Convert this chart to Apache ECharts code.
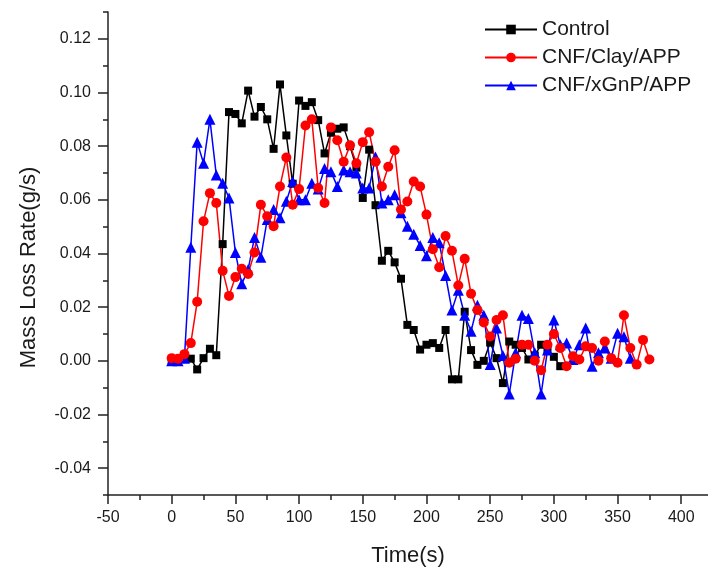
<!DOCTYPE html>
<html>
<head>
<meta charset="utf-8">
<title>Mass Loss Rate</title>
<script src="https://cdn.jsdelivr.net/npm/echarts@6/dist/echarts.min.js"></script>
<style>
    html, body { margin: 0; padding: 0; background: #fff; }
    #grafico { width: 708px; height: 572px; }
</style>
</head>
<body>
<div id="grafico"></div>
<script>
// Datos: tiempo (s) y tasa de pérdida de masa (g/s)
var tiempo = [0, 5, 10, 15, 20, 25, 30, 35, 40, 45, 50, 55, 60, 65, 70, 75, 80, 85, 90, 95,
    100, 105, 110, 115, 120, 125, 130, 135, 140, 145, 150, 155, 160, 165, 170, 175, 180, 185, 190, 195,
    200, 205, 210, 215, 220, 225, 230, 235, 240, 245, 250, 255, 260, 265, 270, 275, 280, 285, 290, 295,
    300, 305, 310, 315, 320, 325, 330, 335, 340, 345, 350, 355, 360, 365, 370, 375];

var control = [0, 0.0005, 0.001, 0.0008, -0.0032, 0.001, 0.0045, 0.0021, 0.0435, 0.0927,
    0.092, 0.0885, 0.1007, 0.091, 0.0946, 0.090, 0.079, 0.103, 0.084, 0.066,
    0.097, 0.095, 0.0964, 0.0897, 0.0773, 0.085, 0.0865, 0.087, 0.080, 0.072,
    0.0607, 0.0787, 0.058, 0.0373, 0.041, 0.0367, 0.0306, 0.0134, 0.0115, 0.0042,
    0.006, 0.0066, 0.0048, 0.0115, -0.0069, -0.0069, 0.0183, 0.004, -0.0015, 0.0,
    0.0068, 0.001, -0.0083, 0.0072, 0.006, 0.0048, 0.0005, 0.002, 0.006, 0.004,
    0.0015, -0.002];

var cnfClay = [0.001, 0.0008, 0.0025, 0.0066, 0.022, 0.052, 0.0625, 0.0588, 0.0336, 0.0242,
    0.0312, 0.0343, 0.0324, 0.0404, 0.0582, 0.0539, 0.0502, 0.065, 0.0758, 0.0582,
    0.064, 0.0877, 0.090, 0.0644, 0.0588, 0.087, 0.0822, 0.0742, 0.0803, 0.0736,
    0.0815, 0.0852, 0.0742, 0.065, 0.0723, 0.0785, 0.0564, 0.0594, 0.0668, 0.065,
    0.0545, 0.0416, 0.0349, 0.0465, 0.041, 0.0281, 0.038, 0.025, 0.0189, 0.0143,
    0.0091, 0.0152, 0.017, -0.0007, 0.0008, 0.006, 0.006, 0.0, -0.0035, 0.006,
    0.010, 0.0048, -0.002, 0.0017, 0.0005, 0.0054, 0.0048, 0.0, 0.0072, 0.001,
    -0.0007, 0.017, 0.0048, -0.0014, 0.0078, 0.0005];

var cnfXgnp = [0, 0, 0.001, 0.0423, 0.0815, 0.0736, 0.090, 0.0693, 0.0662, 0.0607,
    0.0404, 0.0287, 0.034, 0.046, 0.0386, 0.0527, 0.0564, 0.0533, 0.0595, 0.0668,
    0.060, 0.060, 0.0662, 0.064, 0.0717, 0.0705, 0.065, 0.0711, 0.0705, 0.070,
    0.0644, 0.0644, 0.076, 0.0588, 0.060, 0.0619, 0.0552, 0.0502, 0.0472, 0.043,
    0.0392, 0.046, 0.044, 0.0318, 0.0189, 0.0263, 0.017, 0.011, 0.0207, 0.017,
    -0.0014, 0.0122, 0.002, -0.0124, 0.003, 0.017, 0.0158, 0.003, -0.0124, 0.004,
    0.0152, 0.006, 0.0066, 0.0005, 0.006, 0.0122, -0.002, 0.003, 0.0048, 0.001,
    0.0103, 0.009, 0.001];

var nombres = ['Control', 'CNF/Clay/APP', 'CNF/xGnP/APP'];

// Marcas de los ejes: principales (con etiqueta) y menores
var ticksX = [-50, 0, 50, 100, 150, 200, 250, 300, 350, 400];
var ticksXMenores = [-25, 25, 75, 125, 175, 225, 275, 325, 375];
var ticksY = [-0.04, -0.02, 0.00, 0.02, 0.04, 0.06, 0.08, 0.10, 0.12];
var ticksYMenores = [-0.05, -0.03, -0.01, 0.01, 0.03, 0.05, 0.07, 0.09, 0.11, 0.13];

var fuente = "'Liberation Sans', Arial, sans-serif";
var colorEje = '#222';
var colorTexto = '#1a1a1a';

// Une cada valor con su tiempo
function pares(valores) {
    return valores.map(function (v, i) { return [tiempo[i], v]; });
}

function serie(nombre, valores, color, simbolo, tam) {
    return {
        name: nombre,
        type: 'line',
        data: pares(valores),
        symbol: simbolo,
        symbolSize: tam,
        itemStyle: { color: color },
        lineStyle: { color: color, width: 1.5 },
        emphasis: { disabled: true }
    };
}

var lineaEje = { onZero: false, lineStyle: { color: colorEje, width: 1.5 } };
var estiloMarca = { color: colorEje, width: 1.5 };

var grafico = echarts.init(document.getElementById('grafico'));

var opciones = {
    animation: false,
    backgroundColor: '#fff',
    textStyle: { fontFamily: fuente },
    grid: { left: 108, top: 12, right: 0, bottom: 74, containLabel: false },
    legend: {
        data: nombres,
        orient: 'vertical',
        left: 479,
        top: 14,
        itemWidth: 52,
        itemHeight: 12,
        itemGap: 7,
        textStyle: { fontSize: 21, color: colorTexto, fontFamily: fuente }
    },
    xAxis: [
        {
            type: 'value',
            min: -50,
            max: 421,
            name: 'Time(s)',
            nameLocation: 'middle',
            nameGap: 50,
            nameTextStyle: { fontSize: 22, color: colorTexto },
            axisLine: lineaEje,
            axisTick: { customValues: ticksX, length: 9, lineStyle: estiloMarca },
            axisLabel: { customValues: ticksX, fontSize: 16, color: colorTexto, margin: 15 },
            splitLine: { show: false }
        },
        {
            // eje superpuesto solo para las marcas menores
            type: 'value',
            min: -50,
            max: 421,
            position: 'bottom',
            axisLine: { show: false, onZero: false },
            axisTick: { customValues: ticksXMenores, length: 5, lineStyle: estiloMarca },
            axisLabel: { show: false },
            splitLine: { show: false }
        }
    ],
    yAxis: [
        {
            type: 'value',
            min: -0.05,
            max: 0.13,
            name: 'Mass Loss Rate(g/s)',
            nameLocation: 'middle',
            nameGap: 68,
            nameTextStyle: { fontSize: 22, color: colorTexto, padding: [0, 28, 0, 0] },
            axisLine: lineaEje,
            axisTick: { customValues: ticksY, length: 10, lineStyle: estiloMarca },
            axisLabel: {
                customValues: ticksY,
                fontSize: 16,
                color: colorTexto,
                margin: 17,
                formatter: function (v) { return v.toFixed(2); }
            },
            splitLine: { show: false }
        },
        {
            type: 'value',
            min: -0.05,
            max: 0.13,
            position: 'left',
            axisLine: { show: false, onZero: false },
            axisTick: { customValues: ticksYMenores, length: 5, lineStyle: estiloMarca },
            axisLabel: { show: false },
            splitLine: { show: false }
        }
    ],
    series: [
        serie(nombres[0], control, '#000000', 'rect', 8),
        serie(nombres[2], cnfXgnp, '#0000ff', 'triangle', 11),
        serie(nombres[1], cnfClay, '#ff0000', 'circle', 10)
    ]
};

grafico.setOption(opciones);
</script>
</body>
</html>
